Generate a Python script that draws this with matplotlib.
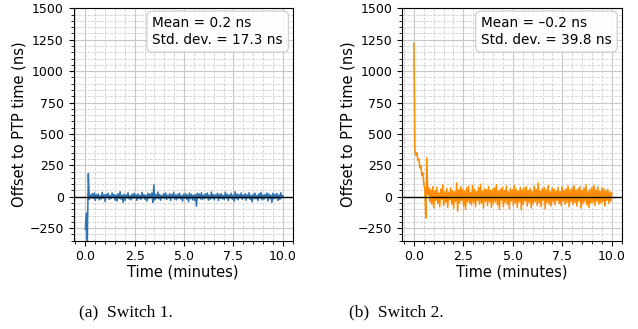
import numpy as np
import matplotlib
matplotlib.use("Agg")
import matplotlib.pyplot as plt
from matplotlib.ticker import AutoMinorLocator, MultipleLocator

# offset to PTP time (ns), one sample every ~3 s over 10 minutes
switch1_offset = [
    -260, -130, -350, 185, -20, 12, -8, 25, -15, 30, -30, 18, -10, 22, -25, 8, -18, 35, -12, 15,
    -40, 20, -5, 28, -22, 10, -15, 30, -8, 18, -28, 14, -35, 25, -12, 40, -20, 12, -45, 22,
    -30, 15, -10, 32, -18, 8, -25, 20, -12, 28, -8, 16, -30, 24, -15, 10, -22, 35, -10, 18,
    -20, 12, -35, 28, -15, 22, -8, 30, -45, 95, -25, 15, -12, 38, -18, 20, -28, 10, -10, 25,
    -15, 30, -22, 12, -10, 25, -30, 18, -8, 35, -20, 14, -25, 22, -12, 28, -18, 10, -35, 20,
    -12, 26, -20, 15, -40, 30, -15, 20, -25, 12, -30, 18, -75, 28, -10, 22, -18, 32, -22, 14,
    -15, 24, -10, 30, -28, 12, -20, 38, -12, 18, -25, 15, -8, 28, -30, 20, -14, 25, -18, 10,
    -22, 35, -12, 20, -30, 15, -10, 28, -20, 12, -35, 40, -15, 22, -25, 18, -8, 30, -20, 14,
    -12, 25, -28, 16, -10, 32, -22, 12, -40, 20, -15, 28, -18, 10, -30, 24, -12, 35, -25, 15,
    -20, 18, -10, 30, -35, 22, -15, 12, -45, 28, -18, 20, -12, 25, -30, 14, -22, 32, -10, 8,
]
switch2_offset = [
    1220, 370, 330, 350, 290, 300, 230, 250, 170, 190, 100, 60, -170, 310, 20, 70, -40, 55, -60, 80,
    -90, 45, -30, 75, -55, 30, -80, 60, -20, 95, -70, 40, -45, 65, -85, 35, -25, 70, -60, 50,
    -95, 40, -35, 110, -115, 55, -50, 80, -30, 60, -75, 45, -100, 70, -40, 85, -55, 35, -65, 90,
    -45, 60, -80, 40, -30, 75, -60, 100, -50, 45, -90, 65, -35, 55, -70, 80, -40, 50, -85, 60,
    -55, 70, -40, 95, -65, 45, -100, 60, -30, 75, -80, 50, -45, 85, -60, 40, -95, 65, -35, 55,
    -70, 90, -50, 60, -85, 45, -40, 75, -105, 55, -60, 70, -35, 80, -75, 50, -45, 65, -90, 40,
    -55, 85, -40, 60, -70, 110, -50, 45, -80, 65, -30, 75, -95, 55, -45, 90, -60, 40, -75, 70,
    -40, 60, -65, 45, -30, 75, -55, 40, -70, 80, -35, 50, -60, 65, -45, 85, -80, 55, -40, 70,
    -60, 90, -45, 55, -75, 65, -35, 80, -90, 50, -55, 70, -40, 95, -65, 45, -85, 60, -50, 75,
    -45, 90, -70, 55, -35, 80, -60, 45, -50, 70, -40, 65, -75, 50, -30, 60, -55, 40, -35, 30,
]
t_end = 10.0
stats = ["Mean = 0.2 ns\nStd. dev. = 17.3 ns", "Mean = \u20130.2 ns\nStd. dev. = 39.8 ns"]
captions = ["(a)  Switch 1.", "(b)  Switch 2."]
colors = ["#2f74b0", "darkorange"]

fig = plt.figure(figsize=(6.38, 3.29), dpi=100)
W, H = 638, 329
boxes = [[73.5, 8.3, 292.7, 240.7], [402, 8.3, 621.7, 240.7]]
cap_x = [126, 396]

for k, off in enumerate([switch1_offset, switch2_offset]):
    l, t, r, b = boxes[k]
    ax = fig.add_axes([l / W, 1 - b / H, (r - l) / W, (b - t) / H])
    tm = np.linspace(0, t_end, len(off))
    ax.plot(tm, off, color=colors[k], lw=1.1)
    ax.axhline(0, color="black", lw=1.0, zorder=3)
    ax.set_xlim(-0.6, 10.5)
    ax.set_ylim(-350, 1500)
    ax.xaxis.set_major_locator(MultipleLocator(2.5))
    ax.yaxis.set_major_locator(MultipleLocator(250))
    ax.xaxis.set_minor_locator(AutoMinorLocator(5))
    ax.yaxis.set_minor_locator(AutoMinorLocator(5))
    ax.grid(which="major", color="#c8c8c8", lw=0.8)
    ax.grid(which="minor", color="#d0d0d0", lw=0.6, ls="--")
    ax.set_axisbelow(True)
    ax.tick_params(labelsize=9)
    ax.set_xlabel("Time (minutes)", fontsize=10.5, labelpad=1)
    ax.set_ylabel("Offset to PTP time (ns)", fontsize=10.5, labelpad=2)
    ax.text(0.36, 0.965, stats[k], transform=ax.transAxes, ha="left", va="top",
            fontsize=9.8, linespacing=1.2,
            bbox=dict(boxstyle="round,pad=0.4", fc="white", ec="#cccccc", alpha=0.85))
    fig.text(cap_x[k] / W, 1 - 312 / H, captions[k], ha="center", va="center",
             fontsize=12.5, family="Liberation Serif")

fig.savefig("out.png", dpi=100)
